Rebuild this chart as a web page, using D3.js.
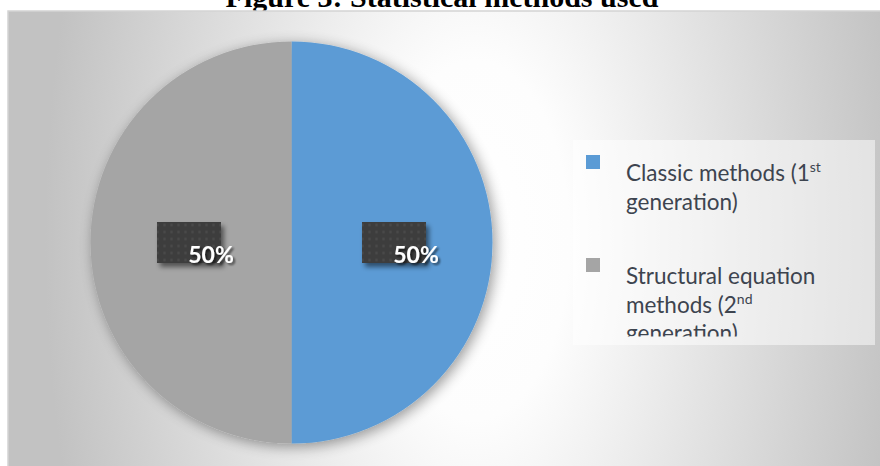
<!DOCTYPE html>
<html>
<head>
<meta charset="utf-8">
<script src="https://cdn.jsdelivr.net/npm/d3@7"></script>
<style>
  html, body { margin: 0; padding: 0; background: #ffffff; }
  svg { display: block; }
</style>
</head>
<body>
<svg id="chart" width="880" height="466"></svg>
<script>
// Share of studies by family of statistical method
const categories = ["Classic methods (1st generation)", "Structural equation methods (2nd generation)"];
const shares = [50, 50];
const colors = ["#5b9bd5", "#a5a5a5"];
// Legend text, one inner array per wrapped line: [main text, superscript]
const legendLines = [
  [["Classic methods (1", "st"], ["generation)", ""]],
  [["Structural equation", ""], ["methods (2", "nd"], ["generation)", ""]]
];
const title = "Figure 3: Statistical methods used";

const W = 880, H = 466;
const svg = d3.select("#chart");
const defs = svg.append("defs");

// Background: soft radial sheen, brightest in the middle of the chart area
const bg = defs.append("radialGradient")
  .attr("id", "bgGrad")
  .attr("gradientUnits", "userSpaceOnUse")
  .attr("cx", 475).attr("cy", 240).attr("r", 430)
  .attr("gradientTransform", "translate(475,240) scale(1,1.9) translate(-475,-240)");
bg.append("stop").attr("offset", 0).attr("stop-color", "#ffffff");
bg.append("stop").attr("offset", 0.22).attr("stop-color", "#fdfdfd");
bg.append("stop").attr("offset", 1).attr("stop-color", "#c2c2c2");

// Soft shadow under the pie
const pieShadow = defs.append("filter").attr("id", "pieShadow")
  .attr("x", "-20%").attr("y", "-20%").attr("width", "140%").attr("height", "140%");
pieShadow.append("feGaussianBlur").attr("in", "SourceAlpha").attr("stdDeviation", 7).attr("result", "b");
pieShadow.append("feOffset").attr("in", "b").attr("dx", 3).attr("dy", 3).attr("result", "o");
pieShadow.append("feComponentTransfer").attr("in", "o").attr("result", "s")
  .append("feFuncA").attr("type", "linear").attr("slope", 0.4);
const pm = pieShadow.append("feMerge");
pm.append("feMergeNode").attr("in", "s");
pm.append("feMergeNode").attr("in", "SourceGraphic");

// Shadow for the data label boxes
const boxShadow = defs.append("filter").attr("id", "boxShadow")
  .attr("x", "-30%").attr("y", "-30%").attr("width", "170%").attr("height", "180%");
boxShadow.append("feGaussianBlur").attr("in", "SourceAlpha").attr("stdDeviation", 2.5).attr("result", "b");
boxShadow.append("feOffset").attr("in", "b").attr("dx", 3).attr("dy", 4).attr("result", "o");
boxShadow.append("feComponentTransfer").attr("in", "o").attr("result", "s")
  .append("feFuncA").attr("type", "linear").attr("slope", 0.5);
const bm = boxShadow.append("feMerge");
bm.append("feMergeNode").attr("in", "s");
bm.append("feMergeNode").attr("in", "SourceGraphic");

// Text shadow for the percentages
const txtShadow = defs.append("filter").attr("id", "txtShadow")
  .attr("x", "-20%").attr("y", "-30%").attr("width", "150%").attr("height", "170%");
txtShadow.append("feGaussianBlur").attr("in", "SourceAlpha").attr("stdDeviation", 1.2).attr("result", "b");
txtShadow.append("feOffset").attr("in", "b").attr("dx", 1.5).attr("dy", 1.5).attr("result", "o");
txtShadow.append("feComponentTransfer").attr("in", "o").attr("result", "s")
  .append("feFuncA").attr("type", "linear").attr("slope", 0.6);
const tm = txtShadow.append("feMerge");
tm.append("feMergeNode").attr("in", "s");
tm.append("feMergeNode").attr("in", "SourceGraphic");

// Dotted dark texture used in the label boxes
const dots = defs.append("pattern").attr("id", "dots")
  .attr("patternUnits", "userSpaceOnUse").attr("width", 7).attr("height", 7);
dots.append("rect").attr("width", 7).attr("height", 7).attr("fill", "#3e3e3e");
dots.append("circle").attr("cx", 3.5).attr("cy", 3.5).attr("r", 1.2).attr("fill", "#4a4a4a");

// Title (partly above the top of the page)
svg.append("text")
  .attr("x", 442).attr("y", 7)
  .attr("text-anchor", "middle")
  .attr("font-family", "'Liberation Serif', 'Times New Roman', serif")
  .attr("font-weight", "bold")
  .attr("font-size", 30)
  .attr("fill", "#000")
  .text(title);

// Chart area
const area = { x: 8, y: 11, w: W - 8 + 2, h: H - 11 + 2 };
svg.append("rect")
  .attr("x", area.x).attr("y", area.y).attr("width", area.w).attr("height", area.h)
  .attr("fill", "url(#bgGrad)")
  .attr("stroke", "#d4d4d4").attr("stroke-width", 1.5);

// Pie
const cx = 291.5, cy = 242.5, R = 201;
const pie = d3.pie().sort(null).value(d => d)(shares);
const arc = d3.arc().innerRadius(0).outerRadius(R);
const labelArc = d3.arc().innerRadius(R * 0.51).outerRadius(R * 0.51);
const total = d3.sum(shares);

const g = svg.append("g").attr("transform", `translate(${cx},${cy})`);
g.append("g").attr("filter", "url(#pieShadow)")
  .selectAll("path").data(pie).join("path")
  .attr("d", arc)
  .attr("fill", (d, i) => colors[i]);

// Data labels: textured box at the slice centroid, percentage overlapping its lower-right
const lab = g.selectAll("g.lab").data(pie).join("g").attr("class", "lab")
  .attr("transform", d => `translate(${labelArc.centroid(d)})`);
lab.append("rect")
  .attr("x", -32).attr("y", -20.5).attr("width", 64).attr("height", 41)
  .attr("fill", "url(#dots)")
  .attr("filter", "url(#boxShadow)");
lab.append("text")
  .attr("x", 22).attr("y", 20)
  .attr("text-anchor", "middle")
  .attr("font-family", "Lato, 'Open Sans', sans-serif")
  .attr("font-weight", "bold")
  .attr("font-size", 23)
  .attr("fill", "#ffffff")
  .attr("filter", "url(#txtShadow)")
  .text(d => Math.round(d.value / total * 100) + "%");

// Legend
const lg = { x: 573, y: 140, w: 302, h: 205 };
defs.append("clipPath").attr("id", "legendClip")
  .append("rect").attr("x", lg.x).attr("y", lg.y).attr("width", lg.w).attr("height", 196.5);
const legend = svg.append("g");
legend.append("rect")
  .attr("x", lg.x).attr("y", lg.y).attr("width", lg.w).attr("height", lg.h)
  .attr("fill", "#ffffff").attr("fill-opacity", 0.5);

const itemTop = [155, 258];   // marker tops
const lineH = 28.5;
const legendItems = legend.append("g").attr("clip-path", "url(#legendClip)")
  .selectAll("g").data(categories).join("g");
legendItems.append("rect")
  .attr("x", 586).attr("y", (d, i) => itemTop[i])
  .attr("width", 14).attr("height", 14)
  .attr("fill", (d, i) => colors[i]);
legendItems.each(function (d, i) {
  const t = d3.select(this).append("text")
    .attr("font-family", "Lato, 'Open Sans', sans-serif")
    .attr("font-size", 22.5)
    .attr("fill", "#3d444f");
  legendLines[i].forEach((ln, j) => {
    const y = itemTop[i] + 26 + j * lineH;
    t.append("tspan").attr("x", 626).attr("y", y).text(ln[0]);
    if (ln[1]) {
      t.append("tspan").attr("dy", -9).attr("font-size", 14).text(ln[1]);
    }
  });
});
</script>
</body>
</html>
